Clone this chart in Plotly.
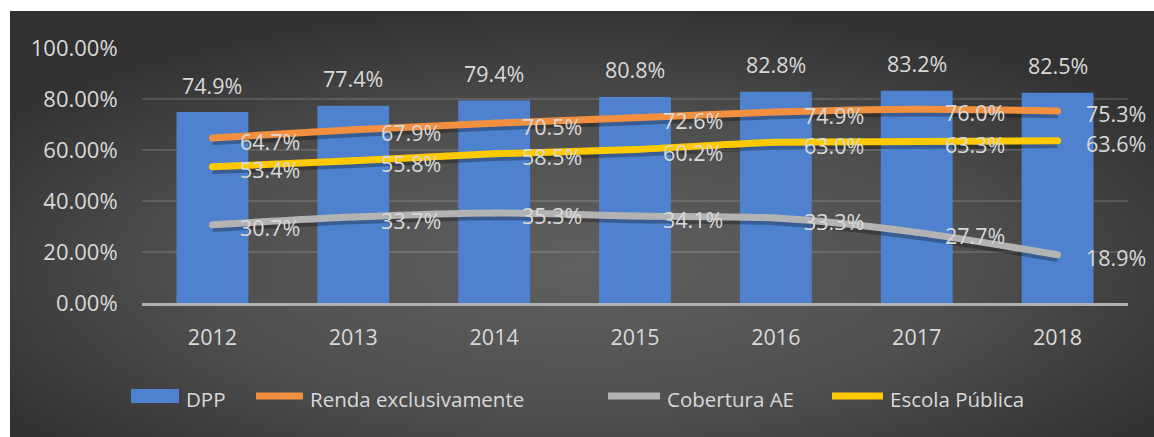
import plotly.graph_objects as go
import base64

years = ["2012", "2013", "2014", "2015", "2016", "2017", "2018"]
dpp = [0.749, 0.774, 0.794, 0.808, 0.828, 0.832, 0.825]
renda = [0.647, 0.679, 0.705, 0.726, 0.749, 0.760, 0.753]
cobertura = [0.307, 0.337, 0.353, 0.341, 0.333, 0.277, 0.189]
escola = [0.534, 0.558, 0.585, 0.602, 0.630, 0.633, 0.636]

names = ["DPP", "Renda exclusivamente", "Cobertura AE", "Escola Pública"]
BAR_C = "#4e82ce"
ORANGE = "#f39040"
GRAY = "#b3b3b3"
YELLOW = "#ffcb00"
TXT = "#d9d9d9"
FONT = "Open Sans"

W, H = 1154, 437
L, R, T, B = 142, 26, 48, 134
PW, PH = W - L - R, H - T - B


def px(x):
    return (x - L) / PW


def py(y):
    return (H - B - y) / PH


fig = go.Figure()
fig.add_trace(go.Bar(x=years, y=dpp, marker=dict(color=BAR_C, line=dict(width=0)),
                     name=names[0], showlegend=False, hoverinfo="y"))

lines = [(renda, ORANGE, names[1]), (escola, YELLOW, names[3]), (cobertura, GRAY, names[2])]
for vals, col, nm in lines:
    fig.add_trace(go.Scatter(x=years, y=[v - 0.011 for v in vals], mode="lines",
                             line=dict(color="rgba(0,0,0,0.28)", width=9, shape="spline", smoothing=0.8),
                             showlegend=False, hoverinfo="skip"))
for vals, col, nm in lines:
    fig.add_trace(go.Scatter(x=years, y=vals, mode="lines+markers", name=nm,
                             line=dict(color=col, width=7, shape="spline", smoothing=0.8),
                             marker=dict(color=col, size=7, line=dict(width=0)),
                             showlegend=False))

ann = []
for i, v in enumerate(dpp):
    ann.append(dict(x=i, y=v, text=f"{v*100:.1f}%", showarrow=False, xanchor="center",
                    yanchor="middle", yshift=27, font=dict(size=21.5, color=TXT, family=FONT)))
for vals in (renda, escola, cobertura):
    for i, v in enumerate(vals):
        ann.append(dict(x=i, y=v, text=f"{v*100:.1f}%", showarrow=False, xanchor="left",
                        yanchor="middle", xshift=26, yshift=-3,
                        font=dict(size=21.5, color=TXT, family=FONT)))

# manual legend
shapes = []
legend_items = [
    ("rect", BAR_C, 131, 179, 184, names[0]),
    ("line", ORANGE, 256, 303, 308, names[1]),
    ("line", GRAY, 608, 660, 665, names[2]),
    ("line", YELLOW, 832, 883, 888, names[3]),
]
for kind, col, x0, x1, tx, nm in legend_items:
    if kind == "rect":
        shapes.append(dict(type="rect", xref="paper", yref="paper", x0=px(x0), x1=px(x1),
                           y0=py(403), y1=py(389), fillcolor=col, line=dict(width=0), layer="above"))
    else:
        shapes.append(dict(type="line", xref="paper", yref="paper", x0=px(x0), x1=px(x1),
                           y0=py(396), y1=py(396), line=dict(color=col, width=7), layer="above"))
    ann.append(dict(xref="paper", yref="paper", x=px(tx), y=py(398.5), text=nm, showarrow=False,
                    xanchor="left", yanchor="middle", font=dict(size=20.5, color=TXT, family=FONT)))

svg = """<svg xmlns='http://www.w3.org/2000/svg' width='1144' height='426' viewBox='0 0 1144 426' preserveAspectRatio='none'>
<defs><radialGradient id='g' cx='50%' cy='60%' r='62%' gradientUnits='objectBoundingBox'>
<stop offset='0' stop-color='#606060'/><stop offset='0.55' stop-color='#4f4f4f'/><stop offset='1' stop-color='#313131'/>
</radialGradient></defs><rect width='1144' height='426' fill='url(#g)'/></svg>"""
src = "data:image/svg+xml;base64," + base64.b64encode(svg.encode()).decode()

fig.update_layout(
    width=W, height=H,
    margin=dict(l=L, r=R, t=T, b=B),
    paper_bgcolor="white", plot_bgcolor="rgba(0,0,0,0)",
    bargap=0.49,
    showlegend=False,
    annotations=ann,
    shapes=shapes,
    images=[dict(source=src, xref="paper", yref="paper", x=px(10), y=py(11),
                 sizex=1144 / PW, sizey=426 / PH, sizing="stretch", xanchor="left",
                 yanchor="top", layer="below")],
    font=dict(family=FONT, color=TXT),
    xaxis=dict(type="category", range=[-0.5, len(years) - 0.5], showgrid=False, showline=True,
               linecolor="#b0b0b0", linewidth=2.5,
               ticks="outside", ticklen=13, tickcolor="rgba(0,0,0,0)",
               tickfont=dict(size=21.5, color=TXT, family=FONT), fixedrange=True),
    yaxis=dict(range=[0, 1], dtick=0.2, tickformat=".2%", showgrid=True,
               gridcolor="rgba(255,255,255,0.13)", gridwidth=1.5, zeroline=False,
               ticks="outside", ticklen=19, tickcolor="rgba(0,0,0,0)",
               tickfont=dict(size=22, color=TXT, family=FONT), fixedrange=True),
)

fig.write_html("out.html", config={"displayModeBar": False},
               post_script="document.body.style.margin='0';document.body.style.overflow='hidden';")
